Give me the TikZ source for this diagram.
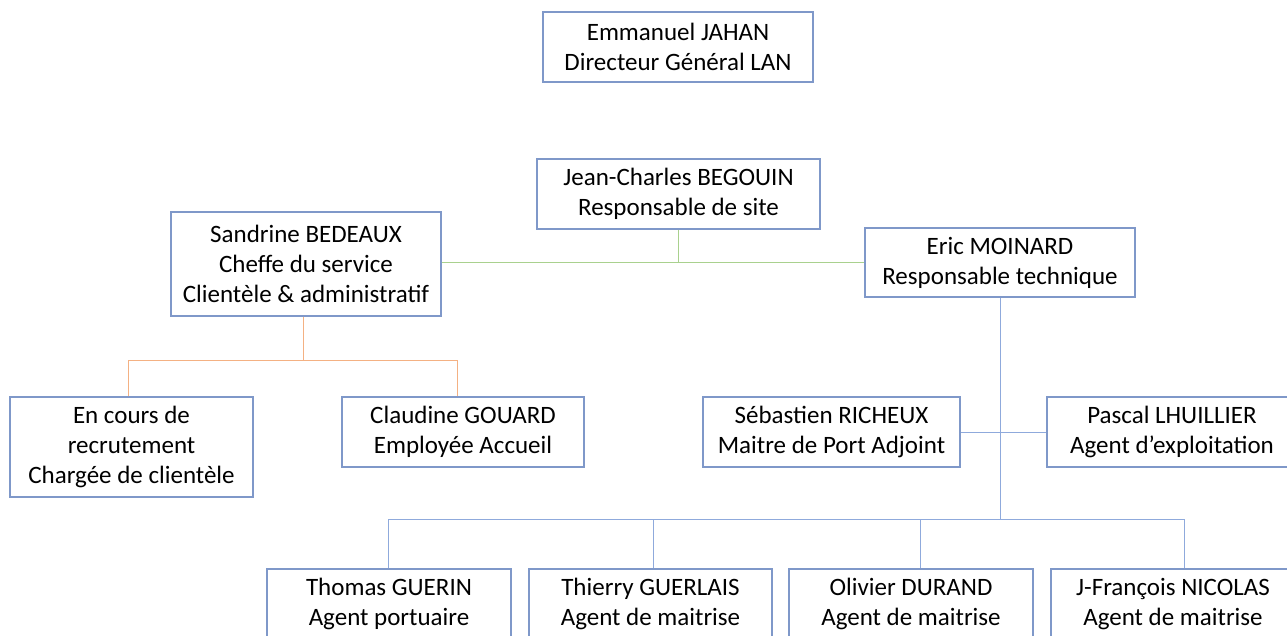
\documentclass[tikz,border=0pt]{standalone}
\usepackage{fontspec}
\setmainfont{Carlito}
\usetikzlibrary{calc}

\definecolor{boxblue}{HTML}{7F98C9}
\definecolor{lineblue}{HTML}{8FAADC}
\definecolor{lineorange}{HTML}{F4B183}
\definecolor{linegreen}{HTML}{A9D18E}

\begin{document}
\begin{tikzpicture}[x=1pt,y=-1pt,
	box/.style={draw=boxblue,line width=1.3pt,align=center,inner sep=0pt,minimum height=70pt,font=\fontsize{25}{30}\selectfont},
	bluelink/.style={draw=lineblue,line width=1pt},
	orangelink/.style={draw=lineorange,line width=1pt},
	greenlink/.style={draw=linegreen,line width=1pt}]

	\useasboundingbox (0,0) rectangle (1287,636);

	% top
	\node[box,minimum width=270pt] (jahan) at (678,47) {Emmanuel JAHAN\\Directeur Général LAN};
	\node[box,minimum width=283pt] (begouin) at (678.5,194) {Jean-Charles BEGOUIN\\Responsable de site};
	\node[box,minimum width=270pt,minimum height=104pt] (bedeaux) at (306,264) {Sandrine BEDEAUX\\Cheffe du service\\Clientèle \& administratif};
	\node[box,minimum width=270pt,minimum height=69pt] (moinard) at (1000,262.5) {Eric MOINARD\\Responsable technique};

	% middle row
	\node[box,minimum width=243pt,minimum height=100pt] (recrut) at (131.5,447) {En cours de\\recrutement\\Chargée de clientèle};
	\node[box,minimum width=242pt] (gouard) at (463,432) {Claudine GOUARD\\Employée Accueil};
	\node[box,minimum width=257pt] (richeux) at (831.5,432) {Sébastien RICHEUX\\Maitre de Port Adjoint};
	\node[box,minimum width=250pt] (lhuillier) at (1172,432) {Pascal LHUILLIER\\Agent d’exploitation};

	% bottom row
	\node[box,minimum width=244pt] (guerin) at (389,604) {Thomas GUERIN\\Agent portuaire};
	\node[box,minimum width=243pt] (guerlais) at (650.5,604) {Thierry GUERLAIS\\Agent de maitrise};
	\node[box,minimum width=244pt] (durand) at (911,604) {Olivier DURAND\\Agent de maitrise};
	\node[box,minimum width=244pt] (nicolas) at (1173,604) {J-François NICOLAS\\Agent de maitrise};

	% green links
	\coordinate (gjoint) at (begouin.south |- moinard.west);
	\draw[greenlink] (begouin.south) -- (gjoint);
	\draw[greenlink] (bedeaux.east |- gjoint) -- (moinard.west);

	% orange links
	\coordinate (obar) at (303,360);
	\coordinate (oleft) at (128,360);
	\coordinate (oright) at (457,360);
	\draw[orangelink] (bedeaux.south -| obar) -- (obar);
	\draw[orangelink] (recrut.north -| oleft) -- (oleft) -- (oright) -- (gouard.north -| oright);

	% blue links
	\coordinate (bbar) at (1000,519);
	\draw[bluelink] (moinard.south) -- (bbar);
	\draw[bluelink] (richeux.east) -- (lhuillier.west);
	\foreach \n/\x in {guerin/388,guerlais/653,durand/920,nicolas/1184}{
		\coordinate (d\n) at (\x,519);
		\draw[bluelink] (d\n) -- (d\n |- \n.north);
	}
	\draw[bluelink] (dguerin) -- (dnicolas);

\end{tikzpicture}
\end{document}
